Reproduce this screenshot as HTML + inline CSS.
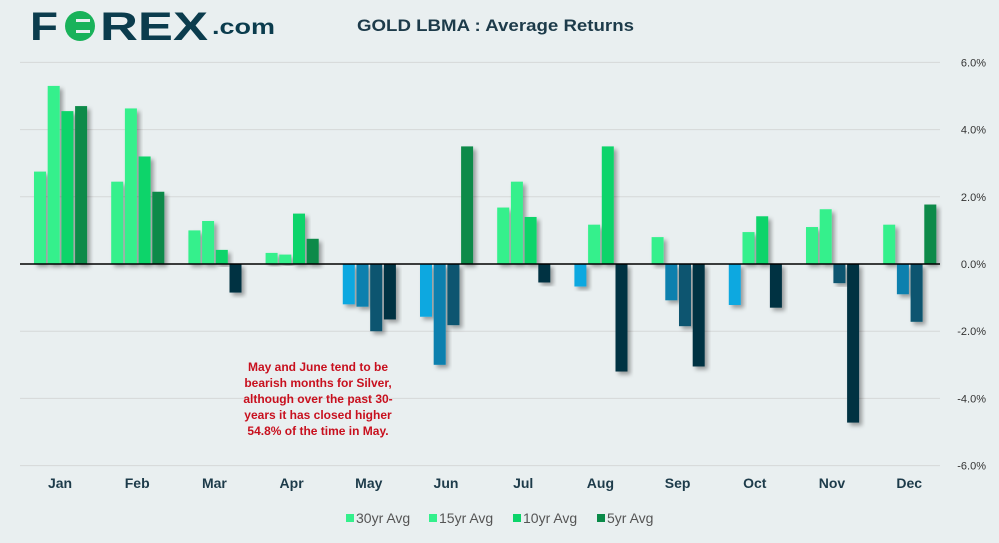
<!DOCTYPE html>
<html><head><meta charset="utf-8"><style>
body{margin:0;background:#e9eff0;width:999px;height:538px;overflow:hidden;font-family:"Liberation Sans",sans-serif}
</style></head><body>
<svg id="c" width="999" height="538">
<defs><filter id="sh" x="-50%" y="-20%" width="200%" height="140%"><feDropShadow dx="3" dy="3" stdDeviation="2" flood-color="#000" flood-opacity="0.35"/></filter></defs>
<g>
<text x="30" y="40" font-size="40" font-weight="bold" fill="#0b3c4d" textLength="28" lengthAdjust="spacingAndGlyphs">F</text>
<circle cx="80" cy="26" r="15" fill="#19b25a"/>
<rect x="76" y="19" width="14" height="3" fill="#e9eff0"/><rect x="76" y="30" width="14" height="3" fill="#e9eff0"/>
<text x="100" y="40" font-size="40" font-weight="bold" fill="#0b3c4d" textLength="108" lengthAdjust="spacingAndGlyphs">REX</text>
<text x="212" y="34" font-size="21" font-weight="bold" fill="#0b3c4d" textLength="63" lengthAdjust="spacingAndGlyphs">.com</text>
</g>
<text x="357" y="31" font-size="17" font-weight="bold" fill="#1d3b4a" textLength="277" lengthAdjust="spacingAndGlyphs">GOLD LBMA : Average Returns</text>
<g id="grid"></g><g id="bars"></g><g id="axis"></g>
<g font-size="12" font-weight="bold" fill="#c8101e" text-anchor="middle">
<text x="318" y="371">May and June tend to be</text>
<text x="318" y="387">bearish months for Silver,</text>
<text x="318" y="403">although over the past 30-</text>
<text x="318" y="419">years it has closed higher</text>
<text x="318" y="435">54.8% of the time in May.</text>
</g>
<g id="legend"></g>
</svg>
<script>
const months=["Jan","Feb","Mar","Apr","May","Jun","Jul","Aug","Sep","Oct","Nov","Dec"];
const seriesNames=["30yr Avg","15yr Avg","10yr Avg","5yr Avg"];
const s30=[2.75,2.45,1.0,0.33,-1.2,-1.57,1.68,-0.67,0.8,-1.22,1.1,1.17];
const s15=[5.3,4.63,1.28,0.28,-1.27,-3.0,2.45,1.17,-1.08,0.95,1.63,-0.9];
const s10=[4.55,3.2,0.42,1.5,-2.0,-1.82,1.4,3.5,-1.85,1.42,-0.57,-1.72];
const s5=[4.7,2.15,-0.85,0.75,-1.65,3.5,-0.55,-3.2,-3.05,-1.3,-4.72,1.77];
const ticks=[6,4,2,0,-2,-4,-6];
const series=[s30,s15,s10,s5];
const pos=["#34f08c","#34f08c","#0cd46a","#0a8a48"];
const neg=["#10a8e0","#0b80ae","#075570","#033042"];
const NS="http://www.w3.org/2000/svg";
const y=v=>264-v*33.6;
const xc=i=>60+i*77.2;
function mk(t,a,p){const e=document.createElementNS(NS,t);for(const k in a)e.setAttribute(k,a[k]);p.appendChild(e);return e;}
const grid=document.getElementById('grid'),axis=document.getElementById('axis'),bars=document.getElementById('bars'),leg=document.getElementById('legend');
ticks.forEach(t=>{
 if(t!==0){const l=mk('line',{x1:20,x2:940,y1:y(t),y2:y(t),stroke:'#d6d8d8','stroke-width':1},grid);
 
 }
 const tx=mk('text',{x:986,y:y(t)+4,'text-anchor':'end','font-size':11,fill:'#333'},axis);
 tx.textContent=t.toFixed(1)+'%';
 
 
});
months.forEach((m,i)=>{
 series.forEach((s,j)=>{
  const v=s[i];const x=xc(i)-26+j*13.7;
  const r=mk('rect',{x:x,y:Math.min(y(v),264),width:12,height:Math.abs(y(v)-264),fill:v>=0?pos[j]:neg[j],filter:'url(#sh)'},bars);
  
  
 });
 const t=mk('text',{x:xc(i),y:488,'text-anchor':'middle','font-size':14,'font-weight':'bold',fill:'#1d3b4a'},axis);
 t.textContent=m;
 
 
});
const z=mk('line',{x1:20,x2:940,y1:264,y2:264,stroke:'#000','stroke-width':1.5},axis);


const lx=[346,429,513,597];
seriesNames.forEach((n,j)=>{
 const g=mk('g',{},leg);
 
 
 mk('rect',{x:lx[j],y:514,width:8,height:8,fill:pos[j]},g);
 const t=mk('text',{x:lx[j]+10,y:523,'font-size':14,fill:'#555'},g);t.textContent=n;
});
</script>
</body></html>
